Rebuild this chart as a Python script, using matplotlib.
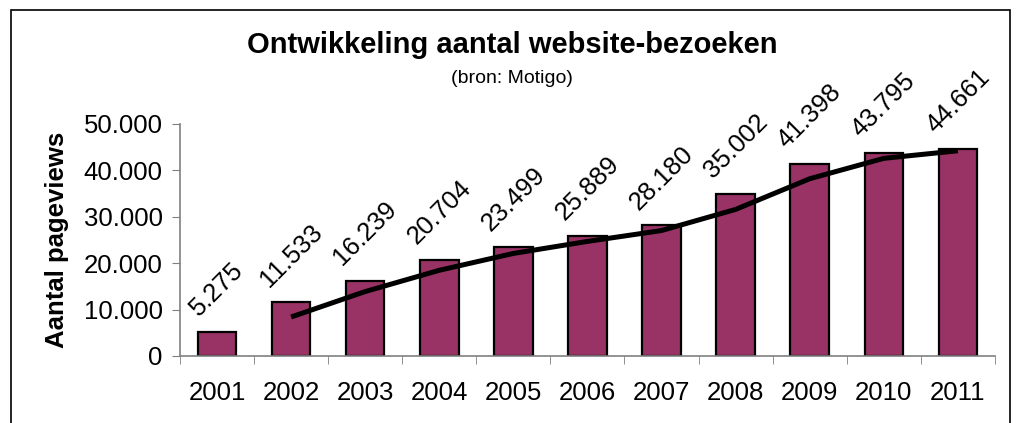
"""Ontwikkeling aantal website-bezoeken — bar chart with trend line."""
import matplotlib
matplotlib.use("Agg")
import matplotlib.pyplot as plt
from matplotlib.patches import Rectangle

years = ["2001", "2002", "2003", "2004", "2005", "2006",
         "2007", "2008", "2009", "2010", "2011"]
pageviews = [5275, 11533, 16239, 20704, 23499, 25889,
             28180, 35002, 41398, 43795, 44661]
# trend line (2-period moving average), starts at 2002
trend_years = years[1:]
trend_values = [8404, 13886, 18472, 22102, 24694,
                27035, 31591, 38200, 42597, 44228]
yticks = [0, 10000, 20000, 30000, 40000, 50000]

BAR_COLOR = "#993366"
AXIS_GRAY = "#808080"


def fmt(v):
    return f"{v:,}".replace(",", ".")


def main():
    plt.rcParams["font.family"] = ["Liberation Sans", "DejaVu Sans"]
    fig = plt.figure(figsize=(10.19, 4.23), dpi=100)
    ax = fig.add_axes([0.1766, 0.1584, 0.7998, 0.5485])

    x = list(range(len(years)))
    ax.bar(x, pageviews, width=0.52, color=BAR_COLOR,
           edgecolor="black", linewidth=1.6, zorder=2)
    tx = [years.index(y) for y in trend_years]
    ax.plot(tx, trend_values, color="black", lw=3.6, zorder=3,
            solid_capstyle="butt")

    for xi, v in zip(x, pageviews):
        ax.annotate(fmt(v), (xi, v), xytext=(0, 8), textcoords="offset points",
                    ha="center", va="bottom", rotation=45, fontsize=18.5)

    ax.set_xlim(-0.5, len(years) - 0.5)
    ax.set_ylim(0, 50000)
    ax.set_yticks(yticks)
    ax.set_yticklabels([fmt(t) for t in yticks], fontsize=18.5)
    ax.set_xticks(x)
    ax.set_xticklabels(years, fontsize=18.5)
    ax.tick_params(axis="x", length=0, pad=18)
    ax.set_xticks([i - 0.5 for i in range(len(years) + 1)], minor=True)
    ax.tick_params(axis="x", which="minor", length=6, color=AXIS_GRAY,
                   direction="out")
    ax.tick_params(axis="y", length=6, color=AXIS_GRAY, pad=6.5)

    for side in ("top", "right"):
        ax.spines[side].set_visible(False)
    for side in ("left", "bottom"):
        ax.spines[side].set_color(AXIS_GRAY)
        ax.spines[side].set_linewidth(1.2)

    fig.text(0.056, 0.4326, "Aantal pageviews", rotation=90, fontsize=18.5,
             fontweight="bold", ha="center", va="center")
    fig.text(0.5025, 0.8936, "Ontwikkeling aantal website-bezoeken",
             fontsize=21, fontweight="bold", ha="center", va="center")
    fig.text(0.5025, 0.8156, "(bron: Motigo)", fontsize=14,
             ha="center", va="center")

    border = Rectangle((11 / 1019, -0.05), 999 / 1019, 0.05 + 413 / 423,
                       transform=fig.transFigure, fill=False,
                       edgecolor="black", linewidth=1.2)
    fig.patches.append(border)

    fig.savefig("out.png", dpi=100)
    plt.close(fig)


if __name__ == "__main__":
    main()
